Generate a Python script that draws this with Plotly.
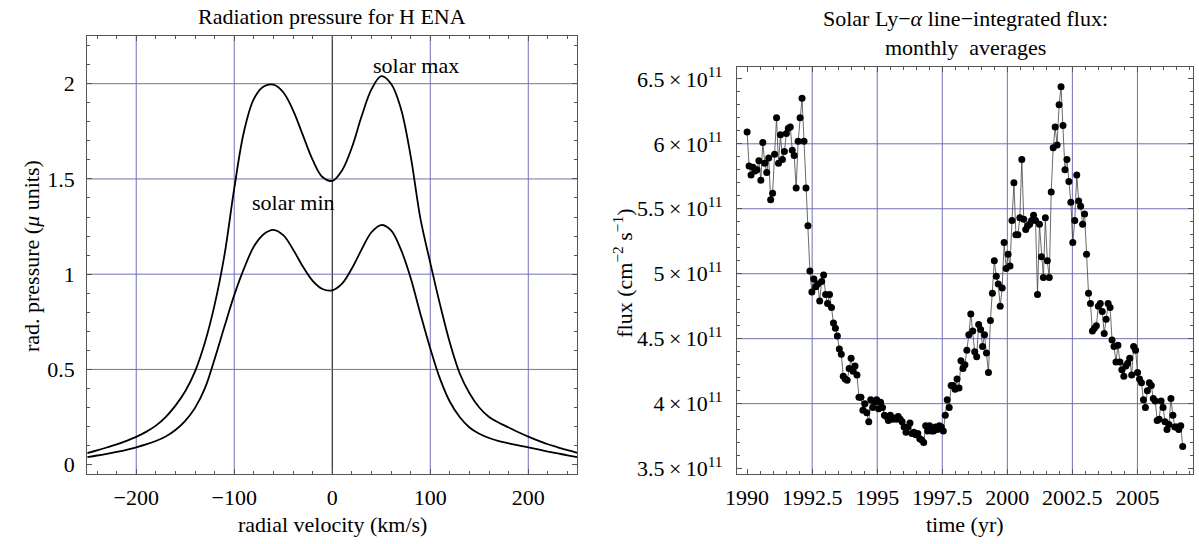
import numpy as np
import plotly.graph_objects as go

# ---------------- Left panel data: radiation pressure vs radial velocity
velocity = [-250, -240, -230, -220, -210, -200, -190, -180, -170, -160, -150, -140, -130, -120,
            -110, -100, -90, -80, -70, -60, -50, -40, -30, -20, -10, 0, 10, 20, 30, 40, 50, 60,
            70, 80, 90, 100, 110, 120, 130, 140, 150, 160, 170, 180, 190, 200, 210, 220, 230, 240, 250]
p_solar_max = [0.061, 0.075, 0.090, 0.106, 0.125, 0.146, 0.172, 0.205, 0.250, 0.310, 0.385, 0.490,
               0.640, 0.840, 1.100, 1.450, 1.750, 1.920, 1.985, 1.995, 1.955, 1.860, 1.730, 1.600,
               1.510, 1.490, 1.545, 1.665, 1.830, 1.970, 2.040, 2.000, 1.870, 1.620, 1.290, 1.060,
               0.840, 0.640, 0.480, 0.375, 0.300, 0.250, 0.220, 0.195, 0.170, 0.147, 0.126, 0.107,
               0.091, 0.076, 0.062]
p_solar_min = [0.040, 0.048, 0.057, 0.067, 0.078, 0.091, 0.106, 0.124, 0.148, 0.182, 0.230, 0.298,
               0.400, 0.555, 0.725, 0.890, 1.030, 1.145, 1.210, 1.233, 1.205, 1.130, 1.040, 0.965,
               0.922, 0.915, 0.950, 1.030, 1.130, 1.220, 1.258, 1.230, 1.130, 0.980, 0.790, 0.610,
               0.450, 0.330, 0.250, 0.195, 0.162, 0.140, 0.124, 0.112, 0.101, 0.091, 0.080, 0.069,
               0.059, 0.049, 0.040]

# ---------------- Right panel data: monthly averaged Ly-alpha flux (units of 1e11 cm^-2 s^-1)
flux_e11 = [6.09, 5.83, 5.76, 5.82, 5.79, 5.80, 5.87, 5.72, 6.01, 5.85, 5.78, 5.89, 5.57, 5.62, 5.92,
            6.20, 5.85, 6.07, 5.88, 5.94, 6.08, 6.12, 6.13, 5.95, 5.91, 5.66, 6.02, 6.20, 6.35, 6.02,
            5.66, 5.37, 5.02, 4.86, 4.96, 4.90, 4.92, 4.79, 4.94, 4.99, 4.84, 4.77, 4.84, 4.74, 4.62,
            4.58, 4.52, 4.42, 4.38, 4.21, 4.19, 4.18, 4.27, 4.35, 4.25, 4.29, 4.22, 4.05, 4.05, 3.95,
            4.00, 3.93, 3.86, 4.03, 3.97, 4.01, 4.03, 3.96, 4.01, 3.97, 3.91, 3.90, 3.87, 3.91, 3.88,
            3.89, 3.88, 3.90, 3.88, 3.86, 3.82, 3.78, 3.82, 3.85, 3.77, 3.78, 3.76, 3.77, 3.73, 3.72,
            3.70, 3.83, 3.79, 3.83, 3.79, 3.79, 3.82, 3.80, 3.83, 3.82, 3.79, 3.91, 4.03, 3.97, 4.14,
            4.14, 4.11, 4.19, 4.12, 4.33, 4.27, 4.30, 4.41, 4.53, 4.69, 4.56, 4.40, 4.36, 4.61, 4.57,
            4.44, 4.53, 4.39, 4.24, 4.64, 4.85, 5.10, 4.98, 4.92, 4.75, 4.89, 5.24, 5.04, 5.15, 5.06,
            5.41, 5.70, 5.30, 5.30, 5.43, 5.88, 5.42, 5.34, 5.37, 5.38, 5.41, 5.45, 5.41, 4.84, 5.38,
            5.13, 4.97, 5.43, 5.10, 4.97, 5.63, 5.97, 6.13, 5.99, 6.30, 6.44, 6.14, 5.80, 5.88, 5.71,
            5.55, 5.24, 5.41, 5.76, 5.56, 5.52, 5.38, 5.46, 5.15, 4.85, 4.77, 4.56, 4.58, 4.60, 4.75,
            4.77, 4.71, 4.54, 4.65, 4.77, 4.74, 4.49, 4.44, 4.32, 4.45, 4.32, 4.26, 4.21, 4.29, 4.31,
            4.35, 4.22, 4.44, 4.41, 4.24, 4.19, 4.16, 4.03, 3.97, 4.10, 4.16, 4.14, 4.04, 4.02, 3.87,
            3.88, 4.02, 3.97, 3.86, 3.80, 3.84, 4.04, 3.91, 3.82, 3.82, 3.80, 3.83, 3.67]
first_year, last_year = 1990.0, 2006.74
time_yr = np.linspace(first_year, last_year, len(flux_e11))
flux = np.array(flux_e11) * 1e11

# ---------------- Tick / grid definitions
left_xticks = [-200, -100, 0, 100, 200]
left_xticktext = ["\u2212200", "\u2212100", "0", "100", "200"]
left_yticks = [0, 0.5, 1, 1.5, 2]
left_yticktext = ["0", "0.5", "1", "1.5", "2"]
left_xgrid = [-200, -100, 100, 200]
left_axis_x = [0]
left_ygrid = [0.5, 1, 1.5, 2]

right_xticks = [1990, 1992.5, 1995, 1997.5, 2000, 2002.5, 2005]
right_xticktext = ["1990", "1992.5", "1995", "1997.5", "2000", "2002.5", "2005"]
right_ytick_mant = [3.5, 4, 4.5, 5, 5.5, 6, 6.5]
right_yticks = [m * 1e11 for m in right_ytick_mant]
right_yticktext = [f"{m:g}\u2009\u00d7\u200910<sup>11</sup>" for m in right_ytick_mant]
right_xgrid = [1992.5, 1995, 1997.5, 2000, 2002.5, 2005]
right_ygrid = [4e11, 4.5e11, 5e11, 5.5e11, 6e11]

FONT = "Liberation Serif"
FS = 22
GRID_COLOR = "rgb(112,112,180)"
FRAME_COLOR = "#555555"
W, H = 1199, 544

fig = go.Figure()
fig.add_trace(go.Scatter(x=velocity, y=p_solar_max, mode="lines", xaxis="x", yaxis="y",
                         line=dict(color="black", width=1.8, shape="spline", smoothing=1.0),
                         showlegend=False))
fig.add_trace(go.Scatter(x=velocity, y=p_solar_min, mode="lines", xaxis="x", yaxis="y",
                         line=dict(color="black", width=1.8, shape="spline", smoothing=1.0),
                         showlegend=False))
fig.add_trace(go.Scatter(x=time_yr, y=flux, mode="lines+markers", xaxis="x2", yaxis="y2",
                         line=dict(color="#444444", width=0.8),
                         marker=dict(color="black", size=7),
                         showlegend=False))

# plot areas (pixels)
L_x0, L_x1 = 76.0, 571.0
R_x0, R_x1 = 732.3, 1193.3
L_top, R_top, BOT = 33.7, 64.7, 480.0

def common_axis(**kw):
    d = dict(showline=True, linecolor=FRAME_COLOR, linewidth=1, mirror="ticks",
             ticks="inside", ticklen=5, tickcolor=FRAME_COLOR, tickwidth=1,
             showgrid=False, zeroline=False, tickfont=dict(family=FONT, size=FS, color="black"),
             tickmode="array", fixedrange=True)
    d.update(kw)
    return d

fig.update_layout(
    width=W, height=H, margin=dict(l=0, r=0, t=0, b=0),
    paper_bgcolor="white", plot_bgcolor="white",
    font=dict(family=FONT, size=FS, color="black"),
    xaxis=common_axis(domain=[L_x0 / W, L_x1 / W], range=[-250, 250], anchor="y",
                      tickvals=left_xticks, ticktext=left_xticktext, ticklabelstandoff=3,
                      minor=dict(ticks="inside", ticklen=3, tickcolor=FRAME_COLOR,
                                 tickmode="linear", tick0=0, dtick=20)),
    yaxis=common_axis(domain=[1 - BOT / H, 1 - L_top / H], range=[-0.05, 2.25], anchor="x",
                      tickvals=left_yticks, ticktext=left_yticktext, ticklabelstandoff=7,
                      minor=dict(ticks="inside", ticklen=3, tickcolor=FRAME_COLOR,
                                 tickmode="linear", tick0=0, dtick=0.1)),
    xaxis2=common_axis(domain=[R_x0 / W, R_x1 / W], range=[1989.61, 2007.15], anchor="y2",
                       tickvals=right_xticks, ticktext=right_xticktext, ticklabelstandoff=3,
                       minor=dict(ticks="inside", ticklen=3, tickcolor=FRAME_COLOR,
                                  tickmode="linear", tick0=1990, dtick=0.5)),
    yaxis2=common_axis(domain=[1 - BOT / H, 1 - R_top / H], range=[3.457e11, 6.595e11], anchor="x2",
                       tickvals=right_yticks, ticktext=right_yticktext, ticklabelstandoff=9,
                       minor=dict(ticks="inside", ticklen=3, tickcolor=FRAME_COLOR,
                                  tickmode="linear", tick0=0, dtick=0.1e11)),
)

shapes = []
for v in left_xgrid:
    shapes.append(dict(type="line", xref="x", yref="y domain", x0=v, x1=v, y0=0, y1=1,
                       line=dict(color=GRID_COLOR, width=1), layer="below"))
for v in left_axis_x:
    shapes.append(dict(type="line", xref="x", yref="y domain", x0=v, x1=v, y0=0, y1=1,
                       line=dict(color="black", width=1), layer="below"))
for v in left_ygrid:
    shapes.append(dict(type="line", xref="x domain", yref="y", x0=0, x1=1, y0=v, y1=v,
                       line=dict(color=GRID_COLOR, width=1), layer="below"))
for v in right_xgrid:
    shapes.append(dict(type="line", xref="x2", yref="y2 domain", x0=v, x1=v, y0=0, y1=1,
                       line=dict(color=GRID_COLOR, width=1), layer="below"))
for v in right_ygrid:
    shapes.append(dict(type="line", xref="x2 domain", yref="y2", x0=0, x1=1, y0=v, y1=v,
                       line=dict(color=GRID_COLOR, width=1), layer="below"))
fig.update_layout(shapes=shapes)

def ann(text, xpx, ypx, **kw):
    d = dict(text=text, x=xpx / W, y=1 - ypx / H, xref="paper", yref="paper",
             showarrow=False, xanchor="center", yanchor="middle",
             font=dict(family=FONT, size=FS, color="black"))
    d.update(kw)
    return d

annotations = [
    ann("Radiation pressure for H ENA", (L_x0 + L_x1) / 2, 14),
    ann("Solar Ly\u2212<i>\u03b1</i> line\u2212integrated flux:", (R_x0 + R_x1) / 2, 16),
    ann("monthly\u00a0 averages", (R_x0 + R_x1) / 2, 45),
    ann("radial velocity (km/s)", (L_x0 + L_x1) / 2, 531),
    ann("time (yr)", (R_x0 + R_x1) / 2, 531),
    ann("rad. pressure (<i>\u03bc</i> units)", 19, 258, textangle=-90),
    ann("flux (cm<sup>\u22122</sup> s<sup>\u22121</sup>)", 617, 275, textangle=-90),
    dict(text="solar max", x=85, y=2.095, xref="x", yref="y", showarrow=False,
         xanchor="center", yanchor="middle", font=dict(family=FONT, size=FS, color="black")),
    dict(text="solar min", x=-40, y=1.374, xref="x", yref="y", showarrow=False,
         xanchor="center", yanchor="middle", font=dict(family=FONT, size=FS, color="black")),
]
fig.update_layout(annotations=annotations)

fig.write_html("out.html")
